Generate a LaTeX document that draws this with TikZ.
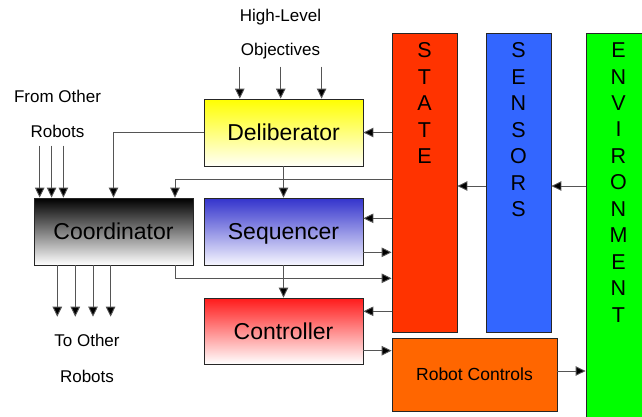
\documentclass[tikz,border=0pt]{standalone}
\usepackage{fontspec}
\setmainfont{Liberation Sans}
\usetikzlibrary{arrows.meta}

\definecolor{statered}{HTML}{FF3300}
\definecolor{sensblue}{HTML}{3366FF}
\definecolor{envgreen}{HTML}{00FF00}
\definecolor{ctrlorange}{HTML}{FF6600}
\definecolor{lineg}{HTML}{555555}

\tikzset{
  layerbox/.style={draw=black!85, line width=0.8pt, minimum width=159pt, minimum height=67pt,
    inner sep=0pt, text height=16.8pt, text depth=0pt, font=\fontsize{23}{26}\selectfont},
  colbox/.style={draw=black!85, line width=0.8pt, minimum width=65pt, inner sep=0pt},
  vlet/.style={anchor=north, inner sep=0pt, yshift=-10pt, align=center,
    font=\fontsize{21.5}{26.45}\selectfont},
  plain/.style={inner sep=0pt, font=\fontsize{17}{20}\selectfont},
  arr/.style={draw=lineg, line width=0.9pt, -{Triangle[length=10pt,width=9.5pt,fill=black]}}
}

\begin{document}
\begin{tikzpicture}[x=1pt,y=-1pt]
\useasboundingbox (0,0) rectangle (642,416);

% vertical bars
\node[colbox, fill=statered, minimum height=299pt,
      label={[vlet]north:S\\T\\A\\T\\E}] (state) at (424.5,182.5) {};
\node[colbox, fill=sensblue, minimum height=299pt,
      label={[vlet]north:S\\E\\N\\S\\O\\R\\S}] (sens) at (518.5,182.5) {};
\node[colbox, fill=envgreen, minimum height=387pt,
      label={[vlet]north:E\\N\\V\\I\\R\\O\\N\\M\\E\\N\\T}] (env) at (618.5,226.5) {};

% layer boxes
\node[layerbox, top color=yellow, bottom color=yellow!3] (delib) at (283.5,132.5) {Deliberator};
\node[layerbox, top color={rgb,255:red,51;green,51;blue,204}, bottom color={rgb,255:red,246;green,246;blue,255}] (seq) at (283.5,231.5) {Sequencer};
\node[layerbox, top color={rgb,255:red,255;green,26;blue,26}, bottom color=white, minimum height=66pt] (ctrl) at (283.5,331) {Controller};
\node[layerbox, top color=black, bottom color=white] (coord) at (113.5,231.5) {Coordinator};
\node[draw=black!85, line width=0.8pt, fill=ctrlorange, minimum width=165pt, minimum height=73pt,
      inner sep=0pt, font=\fontsize{17.5}{20}\selectfont] (rc) at (474.5,374.5) {Robot Controls};

% labels
\node[plain] (hl) at (280.5,17) {High-Level};
\node[plain] (obj) at (280.5,51) {Objectives};
\node[plain] (fo) at (57.5,96) {From Other};
\node[plain] (fr) at (57.5,131) {Robots};
\node[plain] (to) at (87,340) {To Other};
\node[plain] (tr) at (87,376) {Robots};

% free ends of the open arrows
\coordinate (o1) at (239.8,66.7);
\coordinate (o2) at (280.7,66.7);
\coordinate (o3) at (321.6,66.7);
\coordinate (r1) at (39.7,145.7);
\coordinate (r2) at (51.6,145.7);
\coordinate (r3) at (63.4,145.7);
\coordinate (t1) at (57.3,316.7);
\coordinate (t2) at (75.3,316.7);
\coordinate (t3) at (93,316.7);
\coordinate (t4) at (110.6,316.7);
% routing helpers
\coordinate (k1) at (175,179.3);
\coordinate (k2) at (0,186);
\coordinate (k3) at (0,218.3);
\coordinate (k4) at (0,252.3);
\coordinate (k5) at (175,278.3);
\coordinate (k6) at (0,311.3);
\coordinate (k7) at (0,350.7);
\coordinate (k8) at (0,371);

% objectives into the deliberator
\foreach \c in {o1,o2,o3} \draw[arr] (\c) -- (\c |- delib.north);
% other robots into the coordinator
\foreach \c in {r1,r2,r3} \draw[arr] (\c) -- (\c |- coord.north);
% coordinator out to other robots
\foreach \c in {t1,t2,t3,t4} \draw[arr] (\c |- coord.south) -- (\c);

\draw[arr] (delib.west) -| (coord.north);
\draw[arr] (state.west |- k1) -| (k1 |- coord.north);
\draw[arr] (delib.south) -- (seq.north);
\draw[arr] (seq.south) -- (ctrl.north);
\draw[arr] (state.west |- delib.east) -- (delib.east);
\draw[arr] (sens.west |- k2) -- (state.east |- k2);
\draw[arr] (env.west |- k2) -- (sens.east |- k2);
\draw[arr] (state.west |- k3) -- (seq.east |- k3);
\draw[arr] (seq.east |- k4) -- (state.west |- k4);
\draw[arr] (k5 |- coord.south) |- (state.west |- k5);
\draw[arr] (state.west |- k6) -- (ctrl.east |- k6);
\draw[arr] (ctrl.east |- k7) -- (rc.west |- k7);
\draw[arr] (rc.east |- k8) -- (env.west |- k8);
\end{tikzpicture}
\end{document}
